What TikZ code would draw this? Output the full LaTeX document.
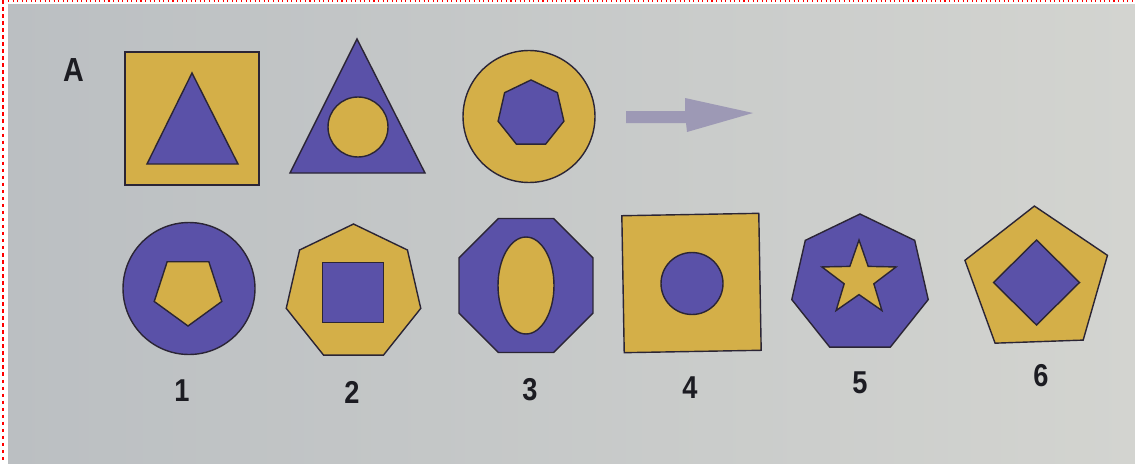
\documentclass[tikz,border=0pt]{standalone}
\usepackage{fontspec}
\setmainfont{Liberation Sans}
\usetikzlibrary{shapes.geometric}
\definecolor{mustard}{HTML}{D4AF48}
\definecolor{iris}{HTML}{5A51A8}
\definecolor{edge}{HTML}{2B2535}
\definecolor{ink}{HTML}{1C1C22}
\definecolor{arrowgrey}{HTML}{9D99B5}
\definecolor{bgleft}{HTML}{BBBFC2}
\definecolor{bgright}{HTML}{D3D4D0}

\begin{document}
\begin{tikzpicture}[x=0.02cm,y=-0.02cm,
    shp/.style={draw=edge,line width=0.8pt,inner sep=0pt,outer sep=0pt},
    yel/.style={shp,fill=mustard},
    pur/.style={shp,fill=iris},
    num/.style={font=\fontsize{18}{20}\selectfont\bfseries,xscale=0.86,text=ink}]
  \useasboundingbox (0,0) rectangle (1135,463);
  \shade[left color=bgleft,right color=bgright] (8,4) rectangle (1135,463);
  \draw[red,line width=0.8pt,dash pattern=on 2pt off 2pt] (3,0) -- (3,463);
  \draw[red,line width=0.6pt,dotted] (8,1) -- (1135,1);

  % row A
  \node[num,font=\fontsize{19}{22}\selectfont\bfseries] (lblA) at (73.5,70) {A};
  \node[yel,rectangle,minimum width=2.68cm,minimum height=2.66cm] (sqA) at (192,118.5) {};
  \draw[pur] (192,73) -- (147,164) -- (238,164) -- cycle;
  \draw[pur] (357,39) -- (290,173) -- (425,173) -- cycle;
  \node[yel,circle,minimum size=1.2cm] (dotA) at (358,127) {};
  \node[yel,circle,minimum size=2.64cm] (ringA) at (529,116.5) {};
  \node[pur,regular polygon,regular polygon sides=7,minimum size=1.35cm] (heptA) at (531,113.7) {};
  \fill[arrowgrey] (626,111) -- (685,111) -- (685,98) -- (753,113)
    -- (687,132) -- (686,123) -- (626,123) -- cycle;

  % answers
  \node[pur,circle,minimum size=2.64cm] (ans1) at (189,288.5) {};
  \node[yel,regular polygon,regular polygon sides=5,shape border rotate=180,minimum size=1.42cm] (in1) at (188,290.5) {};
  \node[yel,regular polygon,regular polygon sides=7,minimum size=2.76cm] (ans2) at (353.5,293) {};
  \node[pur,rectangle,minimum size=1.21cm] (in2) at (353,292.5) {};
  \node[pur,regular polygon,regular polygon sides=8,minimum size=2.9cm] (ans3) at (526,285.5) {};
  \node[yel,ellipse,minimum width=1.12cm,minimum height=1.94cm] (in3) at (526,285.5) {};
  \node[yel,rectangle,rotate=1,minimum size=2.74cm] (ans4) at (691.5,283) {};
  \node[pur,circle,minimum size=1.24cm] (in4) at (692,283.5) {};
  \node[pur,regular polygon,regular polygon sides=7,minimum size=2.8cm] (ans5) at (860,284) {};
  \node[yel,star,star points=5,star point ratio=2.5,minimum size=1.56cm] (in5) at (859,279) {};
  \node[yel,regular polygon,regular polygon sides=5,rotate=2,minimum size=3cm] (ans6) at (1037,281) {};
  \node[pur,diamond,minimum width=1.72cm,minimum height=1.7cm] (in6) at (1036.5,282.5) {};

  \node[num] (n1) at (182,391) {1};
  \node[num] (n2) at (352,392) {2};
  \node[num] (n3) at (530,390) {3};
  \node[num] (n4) at (690,388) {4};
  \node[num] (n5) at (860,383) {5};
  \node[num] (n6) at (1041,376) {6};
\end{tikzpicture}
\end{document}
